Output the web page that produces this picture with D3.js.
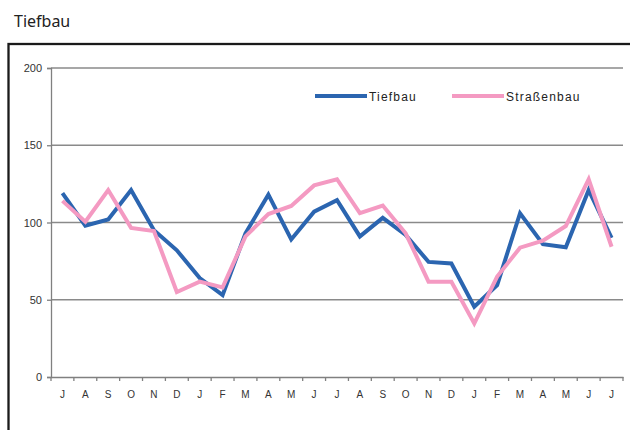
<!DOCTYPE html>
<html><head><meta charset="utf-8">
<script src="https://cdn.jsdelivr.net/npm/d3@7"></script>
<style>body{margin:0;background:#fff;}svg{display:block;}</style>
</head><body>
<svg id="c" width="630" height="430"></svg>
<script>
const months = ["J","A","S","O","N","D","J","F","M","A","M","J","J","A","S","O","N","D","J","F","M","A","M","J","J"];
const tiefbau = [119,98,102,121,95,82,64,53,93,118,89,107,114.5,91,103,92,74.5,73.5,45.5,59.5,106,86,84,121,90];
const strassenbau = [114,100.5,121,96.5,94.5,55,61.7,58,91,105.5,110.7,124,128,106,111,93,61.7,61.7,34.7,65,83.7,88.2,97.7,128,84.3];
const yTicks = [0,50,100,150,200];
const seriesNames = ["Tiefbau","Straßenbau"];
const colors = ["#2b65b0","#f49ac2"];

const svg = d3.select("#c");
const font = "Liberation Sans, Arial, sans-serif";

svg.append("text").attr("x",14).attr("y",27).text("Tiefbau")
  .attr("font-family","Noto Sans, Open Sans, sans-serif").attr("font-size",16).attr("fill","#222");

svg.append("rect").attr("x",8.5).attr("y",44).attr("width",640).attr("height",420)
  .attr("fill","none").attr("stroke","#1a1a1a").attr("stroke-width",2.3);

const x0 = 51, x1 = 623, yTop = 68, yBot = 377;
const x = d3.scaleBand().domain(d3.range(months.length)).range([x0,x1]).padding(0);
const y = d3.scaleLinear().domain([0,200]).range([yBot,yTop]);

// grid
svg.append("g").selectAll("line").data(yTicks.filter(d=>d>0)).join("line")
  .attr("x1",x0).attr("x2",x1).attr("y1",d=>y(d)).attr("y2",d=>y(d))
  .attr("stroke","#8a8a8a").attr("stroke-width",1.3);

// y axis
const yAxis = svg.append("g").attr("transform",`translate(${x0},0)`)
  .call(d3.axisLeft(y).tickValues(yTicks).tickSize(4).tickPadding(5));
yAxis.select(".domain").attr("stroke","#808080").attr("stroke-width",1.3);
yAxis.selectAll(".tick line").attr("stroke","#808080").attr("stroke-width",1.3);
yAxis.selectAll("text").attr("font-family",font).attr("font-size",11).attr("fill","#333");

// x axis
const xAxis = svg.append("g").attr("transform",`translate(0,${yBot})`)
  .call(d3.axisBottom(x).tickFormat(i=>months[i]).tickSize(0).tickPadding(14));
xAxis.select(".domain").attr("stroke","#808080").attr("stroke-width",1.3);
xAxis.selectAll("text").attr("font-family",font).attr("font-size",10).attr("fill","#333");
// boundary tick marks
svg.append("g").selectAll("line").data(d3.range(months.length+1)).join("line")
  .attr("x1",i=>x0+i*x.step()).attr("x2",i=>x0+i*x.step())
  .attr("y1",yBot).attr("y2",yBot+4).attr("stroke","#808080").attr("stroke-width",1.3);

const line = d3.line().x((d,i)=>x(i)+x.bandwidth()/2).y(d=>y(d));
[tiefbau,strassenbau].forEach((s,k)=>{
  svg.append("path").datum(s).attr("d",line).attr("fill","none")
    .attr("stroke",colors[k]).attr("stroke-width",4).attr("stroke-linejoin","miter");
});

// legend
const leg = [{x:315,name:seriesNames[0],c:colors[0]},{x:452,name:seriesNames[1],c:colors[1]}];
leg.forEach(l=>{
  svg.append("line").attr("x1",l.x).attr("x2",l.x+52).attr("y1",96).attr("y2",96)
    .attr("stroke",l.c).attr("stroke-width",4);
  svg.append("text").attr("x",l.x+54).attr("y",100.5).text(l.name)
    .attr("font-family",font).attr("font-size",12).attr("letter-spacing",1.2).attr("fill","#222");
});
</script>
</body></html>
